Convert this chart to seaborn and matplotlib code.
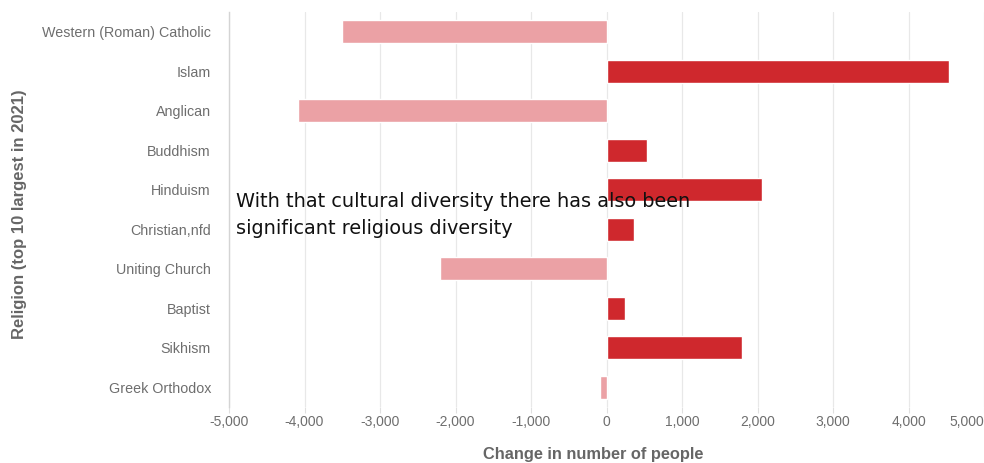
import matplotlib
matplotlib.use("Agg")
import matplotlib.pyplot as plt
import seaborn as sns
import pandas as pd

religions = [
    "Western (Roman) Catholic", "Islam", "Anglican", "Buddhism", "Hinduism",
    "Christian,nfd", "Uniting Church", "Baptist", "Sikhism", "Greek Orthodox",
]
change = [-3500, 4530, -4080, 530, 2060, 370, -2210, 240, 1790, -80]
x_ticks = [-5000, -4000, -3000, -2000, -1000, 0, 1000, 2000, 3000, 4000, 5000]

df = pd.DataFrame({"religion": religions, "change": change})
df["direction"] = ["Increase" if v >= 0 else "Decrease" for v in change]

sns.set_theme(style="white")
plt.rcParams["font.family"] = ["Liberation Sans", "DejaVu Sans"]

W, H = 984, 463
left_px, right_px, top_px, bottom_px = 229, 984, 12, 407
fig = plt.figure(figsize=(W / 100, H / 100), dpi=100)
ax = fig.add_axes([left_px / W, 1 - bottom_px / H,
                   (right_px - left_px) / W, (bottom_px - top_px) / H])

sns.barplot(
    data=df, x="change", y="religion", hue="direction", orient="h",
    palette={"Increase": "#cf282d", "Decrease": "#eba1a5"},
    saturation=1, dodge=False, width=0.58, legend=False, ax=ax, zorder=2,
)

ax.set_xlim(-5000, 5000)
ax.set_xticks(x_ticks)
ax.set_xticklabels([f"{v:,}" for v in x_ticks])
for lbl in ax.get_xticklabels():
    if lbl.get_text() == "5,000":
        lbl.set_horizontalalignment("right")
ax.grid(axis="x", color="#e8e8e8", linewidth=0.9, zorder=0)
ax.set_axisbelow(True)

for side in ["top", "right", "bottom"]:
    ax.spines[side].set_visible(False)
ax.spines["left"].set_color("#d4d4d4")
ax.spines["left"].set_linewidth(1.0)

ax.tick_params(axis="y", length=7, width=0.8, color="#d8d8d8",
               labelsize=10.3, labelcolor="#6e6e6e", pad=6)
ax.tick_params(axis="x", length=4, width=0.8, color="#e0e0e0",
               labelsize=10, labelcolor="#6e6e6e", pad=2, bottom=True)

ax.set_xlabel("Change in number of people", fontsize=11.8, fontweight="bold",
              color="#666666")
ax.xaxis.set_label_coords((607 - left_px) / (right_px - left_px) - 0.018,
                          -(455 - bottom_px) / (bottom_px - top_px))
ax.xaxis.label.set_verticalalignment("center")
ax.set_ylabel("Religion (top 10 largest in 2021)", fontsize=12,
              fontweight="bold", color="#666666")
ax.yaxis.set_label_coords(-(left_px - 19) / (right_px - left_px),
                          (bottom_px - 214) / (bottom_px - top_px))
ax.yaxis.label.set_verticalalignment("center")

fig.text(236 / W, 1 - 207 / H,
         "With that cultural diversity there has also been",
         fontsize=13.9, color="#111111", family=["DejaVu Sans"],
         ha="left", va="baseline", zorder=5)
fig.text(236 / W, 1 - 234 / H,
         "significant religious diversity",
         fontsize=13.9, color="#111111", family=["DejaVu Sans"],
         ha="left", va="baseline", zorder=5)

fig.savefig("out.png", dpi=100)
